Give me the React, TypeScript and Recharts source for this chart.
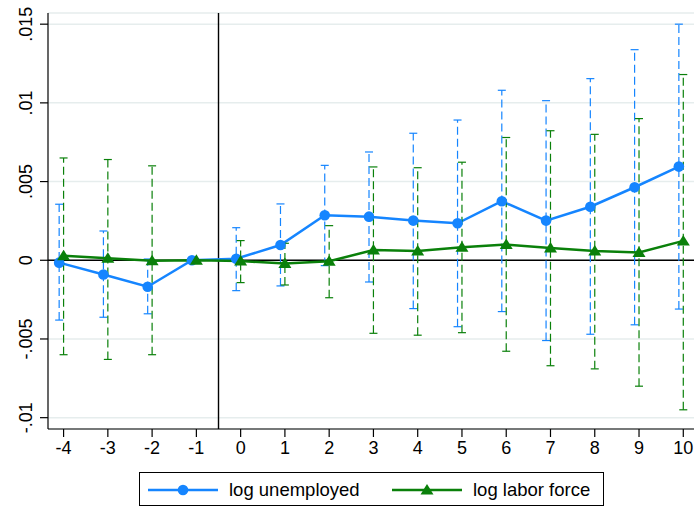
import React from "react";
import {
  ComposedChart,
  Line,
  XAxis,
  YAxis,
  CartesianGrid,
  ReferenceLine,
  ErrorBar,
  Legend,
} from "recharts";

const periods = [-4, -3, -2, -1, 0, 1, 2, 3, 4, 5, 6, 7, 8, 9, 10];

const unempCoef = [-0.00015, -0.0009, -0.00168, 0, 0.0001, 0.00097, 0.00286, 0.00277, 0.00252, 0.00235, 0.00375, 0.00252, 0.0034, 0.00464, 0.00595];
const unempLo = [-0.0038, -0.00362, -0.0034, null, -0.00193, -0.00163, -0.00034, -0.00138, -0.00307, -0.00422, -0.00326, -0.0051, -0.0047, -0.0041, -0.0031];
const unempHi = [0.00356, 0.00186, 0.00008, null, 0.00207, 0.00358, 0.00603, 0.00688, 0.00807, 0.00891, 0.0108, 0.01014, 0.01154, 0.01338, 0.015];

const laborCoef = [0.00029, 0.00013, -0.00003, 0, -0.00005, -0.0002, -0.00006, 0.00065, 0.00059, 0.00083, 0.001, 0.00078, 0.00059, 0.0005, 0.00123];
const laborLo = [-0.006, -0.0063, -0.006, null, -0.00142, -0.00157, -0.00238, -0.00464, -0.00476, -0.0046, -0.00578, -0.0067, -0.0069, -0.008, -0.0095];
const laborHi = [0.0065, 0.0064, 0.006, null, 0.00125, 0.00108, 0.0022, 0.00593, 0.00588, 0.00623, 0.0078, 0.00823, 0.008, 0.009, 0.0118];

const yTicks = [-0.01, -0.005, 0, 0.005, 0.01, 0.015];

const BLUE = "#1585ff";
const GREEN = "#0a800a";
const FONT = "'Liberation Sans', Arial, sans-serif";

// blue series is nudged left a bit, like the original
const unempRows = periods.map((p, i) => ({
  x: p - 0.1,
  coef: unempCoef[i],
  err: unempLo[i] === null ? null : [unempCoef[i] - unempLo[i]!, unempHi[i]! - unempCoef[i]],
}));

const laborRows = periods.map((p, i) => ({
  x: p,
  coef: laborCoef[i],
  err: laborLo[i] === null ? null : [laborCoef[i] - laborLo[i]!, laborHi[i]! - laborCoef[i]],
}));

const fmtY = (v: number) => (v === 0 ? "0" : (v < 0 ? "-" : "") + String(Math.abs(v)).replace(/^0/, ""));

const YTick = ({ x, y, payload }: any) => (
  <text
    x={x - 6}
    y={y}
    transform={`rotate(-90 ${x - 6} ${y})`}
    textAnchor="middle"
    fontSize={18}
    fontFamily={FONT}
    fill="#000"
  >
    {fmtY(payload.value)}
  </text>
);

const XTick = ({ x, y, payload }: any) => (
  <text x={x} y={y + 15} textAnchor="middle" fontSize={18} fontFamily={FONT} fill="#000">
    {payload.value}
  </text>
);

const Triangle = ({ cx, cy, index }: any) => {
  if (cx == null || cy == null) return <g key={index} />;
  return (
    <polygon
      key={`tri-${index}`}
      points={`${cx},${cy - 6} ${cx - 6.5},${cy + 4.5} ${cx + 6.5},${cy + 4.5}`}
      fill={GREEN}
    />
  );
};

const LegendBox = () => (
  <div
    style={{
      width: 465,
      height: 34,
      border: "1px solid #000",
      boxSizing: "border-box",
      background: "#fff",
    }}
  >
    <svg width={463} height={32} style={{ display: "block" }}>
      <line x1={8} y1={17} x2={78} y2={17} stroke={BLUE} strokeWidth={2.5} />
      <circle cx={43} cy={17} r={5.3} fill={BLUE} />
      <text x={89} y={23} fontSize={18.5} fontFamily={FONT} fill="#000">
        log unemployed
      </text>
      <line x1={252} y1={17} x2={322} y2={17} stroke={GREEN} strokeWidth={2.5} />
      <polygon points="287,11 280.5,21.5 293.5,21.5" fill={GREEN} />
      <text x={333} y={23} fontSize={18.5} fontFamily={FONT} fill="#000">
        log labor force
      </text>
    </svg>
  </div>
);

export default function App() {
  return (
    <div style={{ position: "absolute", left: 0, top: 0, background: "#fff" }}>
      <ComposedChart
        width={694}
        height={507}
        margin={{ top: 13, right: 0, bottom: 48, left: 0 }}
      >
        <CartesianGrid vertical={false} stroke="#e6eded" strokeWidth={1.5} />
        <XAxis
          dataKey="x"
          type="number"
          domain={[-4.352, 10.242]}
          ticks={periods}
          allowDataOverflow
          height={30}
          tickSize={8}
          stroke="#000"
          tick={<XTick />}
          axisLine={{ stroke: "#000", strokeWidth: 1.2 }}
          tickLine={{ stroke: "#000", strokeWidth: 1.2 }}
        />
        <YAxis
          type="number"
          domain={[-0.01072, 0.01571]}
          ticks={yTicks}
          allowDataOverflow
          width={48}
          tickSize={8}
          tick={<YTick />}
          axisLine={{ stroke: "#000", strokeWidth: 1.2 }}
          tickLine={{ stroke: "#000", strokeWidth: 1.2 }}
        />
        <ReferenceLine y={0} stroke="#000" strokeWidth={1.4} />
        <ReferenceLine x={-0.5} stroke="#000" strokeWidth={1.4} />
        <Line
          data={unempRows}
          dataKey="coef"
          name="log unemployed"
          stroke={BLUE}
          strokeWidth={2.5}
          dot={{ r: 5.3, fill: BLUE, stroke: "none" }}
          activeDot={false}
          isAnimationActive={false}
        >
          <ErrorBar
            dataKey="err"
            direction="y"
            width={4}
            stroke={BLUE}
            strokeWidth={1.2}
            strokeDasharray="8 4"
            isAnimationActive={false}
          />
        </Line>
        <Line
          data={laborRows}
          dataKey="coef"
          name="log labor force"
          stroke={GREEN}
          strokeWidth={2.5}
          dot={<Triangle />}
          activeDot={false}
          isAnimationActive={false}
        >
          <ErrorBar
            dataKey="err"
            direction="y"
            width={4}
            stroke={GREEN}
            strokeWidth={1.2}
            strokeDasharray="8 4"
            isAnimationActive={false}
          />
        </Line>
        <Legend
          layout="horizontal"
          verticalAlign="middle"
          align="center"
          content={<LegendBox />}
          wrapperStyle={{ left: 139, top: 472, width: 465, height: 34 }}
        />
      </ComposedChart>
    </div>
  );
}
